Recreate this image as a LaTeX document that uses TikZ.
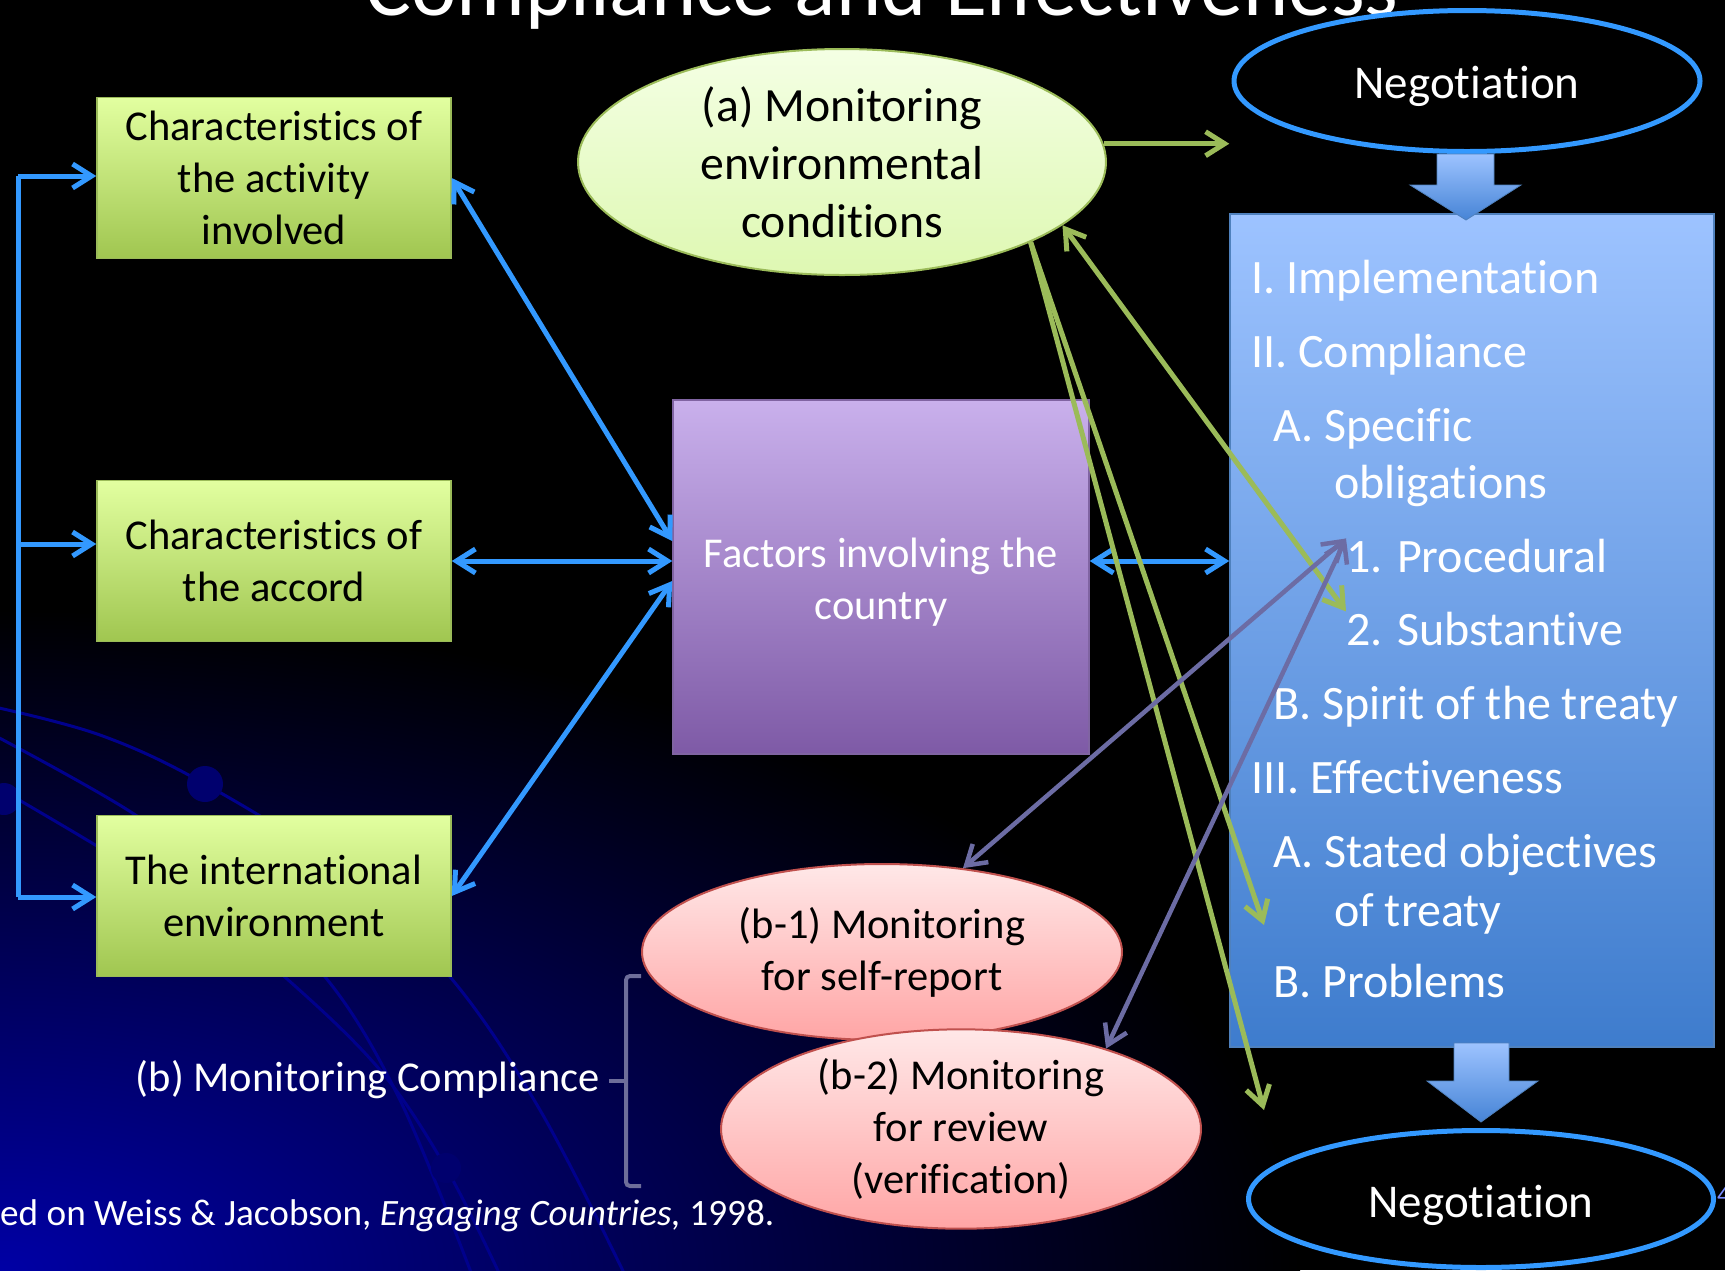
\documentclass[tikz,border=0pt]{standalone}
\usepackage{fontspec}
\setmainfont{Carlito}[Ligatures={NoCommon,NoContextual},RawFeature={-liga;-clig;-calt;-dlig}]
\usetikzlibrary{shapes.geometric,arrows.meta,calc}
\definecolor{arrblue}{RGB}{51,153,255}
\definecolor{arrgreen}{RGB}{155,187,89}
\definecolor{arrpurp}{RGB}{108,108,164}
\definecolor{bracketc}{RGB}{110,110,154}
\definecolor{navyline}{RGB}{0,0,140}
\definecolor{navydot}{RGB}{0,0,110}
\definecolor{gtop}{RGB}{226,255,160}
\definecolor{gbot}{RGB}{160,198,80}
\definecolor{ptop}{RGB}{201,176,236}
\definecolor{pbot}{RGB}{126,90,166}
\definecolor{pdraw}{RGB}{128,100,162}
\definecolor{btop}{RGB}{157,195,255}
\definecolor{bbot}{RGB}{62,124,205}
\definecolor{bdraw}{RGB}{79,129,189}
\definecolor{rtop}{RGB}{255,232,232}
\definecolor{rbot}{RGB}{255,165,165}
\definecolor{rdraw}{RGB}{192,80,77}
\definecolor{atop}{RGB}{244,255,228}
\definecolor{abot}{RGB}{222,248,178}
\definecolor{bgblue}{RGB}{0,0,165}
\begin{document}
\begin{tikzpicture}[x=1pt,y=-1pt,
  onearrow/.style={-{Straight Barb[length=19pt,width=24pt]}},
  twoarrow/.style={{Straight Barb[length=19pt,width=24pt]}-{Straight Barb[length=19pt,width=24pt]}},
  bluecon/.style={draw=arrblue,line width=5pt},
  greencon/.style={draw=arrgreen,line width=5pt},
  purpcon/.style={draw=arrpurp,line width=4.5pt},
  gbox/.style={rectangle,draw=arrgreen,line width=1.5pt,top color=gtop,bottom color=gbot,
    text=black,font=\fontsize{42.5pt}{52pt}\selectfont,align=center,
    minimum width=354pt,minimum height=161pt,inner sep=0pt},
  negell/.style={ellipse,draw=arrblue,line width=5pt,fill=black,text=white,
    font=\fontsize{47pt}{56pt}\selectfont,inner sep=0pt},
  pinkell/.style={ellipse,draw=rdraw,line width=2pt,top color=rtop,bottom color=rbot,
    text=black,font=\fontsize{42.5pt}{52pt}\selectfont,align=center,inner sep=0pt,
    minimum width=480pt,minimum height=176pt},
  item/.style={anchor=base west,text=white,font=\fontsize{48pt}{58pt}\selectfont,inner sep=0pt},
  arcl/.style={draw=navyline,line width=3pt},
  blockarr/.style={top color=btop,bottom color={rgb,255:red,70;green,132;blue,214},draw=bdraw,line width=0.8pt}
]
\useasboundingbox (0,0) rectangle (1725,1270);
\fill[black] (0,0) rectangle (1725,1270);
\begin{scope}
\clip (0,0) rectangle (1725,1270);
\shade[inner color=bgblue,outer color=black] (0,1270) ellipse (1300pt and 660pt);
\draw[arcl] plot[smooth,tension=0.6] coordinates {(-10,706) (100,735) (205,784) (340,870) (451,978) (540,1110) (625,1275)};
\draw[arcl] plot[smooth,tension=0.6] coordinates {(-10,733) (134,814) (230,890) (326,978) (400,1100) (472,1275)};
\draw[arcl] plot[smooth,tension=0.6] coordinates {(-10,783) (97,846) (200,910) (286,978) (380,1070) (446,1168) (500,1275)};
\fill[navydot] (205,784) circle (18pt);
\fill[navydot] (446,1168) circle (15pt);
\fill[navydot] (4,799) circle (16pt);
\end{scope}

% title
\node[white,font=\fontsize{86pt}{100pt}\selectfont,anchor=base,inner sep=0pt] (title) at (882,15) {Compliance and Effectiveness};

% left boxes
\node[gbox] (c1) at (274,178) {Characteristics of\\the activity\\involved};
\node[gbox] (c2) at (274,561) {Characteristics of\\the accord};
\node[gbox] (c3) at (274,896) {The international\\environment};

% centre
\node[rectangle,draw=pdraw,line width=1.5pt,top color=ptop,bottom color=pbot,
  minimum width=416pt,minimum height=354pt,inner sep=0pt] (f) at (881,577) {};
\node[text=white,font=\fontsize{42.5pt}{52pt}\selectfont,align=center,inner sep=0pt]
  (ft) at (881,582) {Factors involving the\\country};

\node[ellipse,draw=arrgreen,line width=2pt,top color=atop,bottom color=abot,text=black,
  font=\fontsize{47.7pt}{58pt}\selectfont,align=center,inner sep=0pt,minimum width=528pt,minimum height=226pt]
  (a) at (842,162) {(a) Monitoring\\environmental\\conditions};

\node[pinkell] (b1) at (882,952) {(b-1) Monitoring\\for self-report};
\node[pinkell] (b2) at (961,1129) {(b-2) Monitoring\\for review\\(verification)};

% right column
\node[negell,minimum width=466pt,minimum height=141pt] (n1) at (1467,81) {};
\node[text=white,font=\fontsize{47pt}{56pt}\selectfont,inner sep=0pt] (n1t) at (1467,86) {Negotiation};
\node[rectangle,draw=bdraw,line width=1.5pt,top color=btop,bottom color=bbot,
  minimum width=484pt,minimum height=833pt,inner sep=0pt] (bb) at (1472,630.5) {};
\node[negell,minimum width=465pt,minimum height=137pt] (n2) at (1481,1199) {};
\node[text=white,font=\fontsize{47pt}{56pt}\selectfont,inner sep=0pt] (n2t) at (1481,1205) {Negotiation};

\path[blockarr] (1437,154) -- (1494,154) -- (1494,185) -- (1521,185) -- (1466,220) -- (1410,185) -- (1437,185) -- cycle;
\path[blockarr] (1454,1043) -- (1509,1043) -- (1509,1081) -- (1538,1081) -- (1481,1122) -- (1427,1081) -- (1454,1081) -- cycle;

\node[item] (i1) at (1251,293) {I. Implementation};
\node[item] (i2) at (1251,367) {II. Compliance};
\node[item] (i3) at (1273,441) {A. Specific};
\node[item] (i4) at (1334,498) {obligations};
\node[item] (pr) at (1346,572) {1. Procedural};
\node[item] (sb) at (1346,645) {2. Substantive};
\node[item] (i7) at (1273,719) {B. Spirit of the treaty};
\node[item] (i8) at (1251,793) {III. Effectiveness};
\node[item] (i9) at (1273,867) {A. Stated objectives};
\node[item] (i10) at (1334,926) {of treaty};
\node[item] (i11) at (1273,997) {B. Problems};

% labels
\node[anchor=base east,text=white,font=\fontsize{42.5pt}{52pt}\selectfont,inner sep=0pt] (bm) at (600,1091) {(b) Monitoring Compliance};
\node[anchor=base west,text=white,font=\fontsize{37.2pt}{44pt}\selectfont,inner sep=0pt] (src) at (0,1225) {ed on Weiss \& Jacobson, \textit{Engaging Countries,} 1998.};
\node[anchor=base west,text={rgb,255:red,120;green,140;blue,255},font=\fontsize{26pt}{30pt}\selectfont,inner sep=0pt] (pg) at (1717,1203) {4};

% bracket
\draw[draw=bracketc,line width=4pt,rounded corners=4pt] (641,976) -- (626,976) -- (626,1186) -- (641,1186);
\draw[draw=bracketc,line width=4pt] (626,1081) -- (609,1081);

% left bus
\coordinate (L1) at (18,176);
\coordinate (L2) at (18,544);
\coordinate (L3) at (18,897);
\draw[bluecon] (L1) -- (L3);
\draw[bluecon,onearrow] (L1) -- (L1 -| c1.west);
\draw[bluecon,onearrow] (L2) -- (L2 -| c2.west);
\draw[bluecon,onearrow] (L3) -- (L3 -| c3.west);

% blue connectors
\draw[bluecon,twoarrow] (c1.east) -- ([yshift=36pt]f.west);
\draw[bluecon,twoarrow] (c2.east) -- (c2.east -| f.west);
\draw[bluecon,twoarrow] (c3.east) -- ([yshift=-4pt]f.west);
\draw[bluecon,twoarrow] ([yshift=16pt]f.east) -- ([yshift=16pt]f.east -| bb.west);

% green connectors
\coordinate (g1) at (1264,925);
\coordinate (g2) at (1264,1110);
\draw[greencon,onearrow] (a.4) -- (a.4 -| bb.west);
\draw[greencon,onearrow] (a.-23) -- (g1);
\draw[greencon,onearrow] (a.-23) -- (g2);
\draw[greencon,twoarrow] (a.-16) -- (sb.north west);

% purple connectors
\draw[purpcon,twoarrow] (pr.north west) -- (b1.46);
\draw[purpcon,twoarrow] (pr.north west) -- (b2.29);
\end{tikzpicture}
\end{document}
